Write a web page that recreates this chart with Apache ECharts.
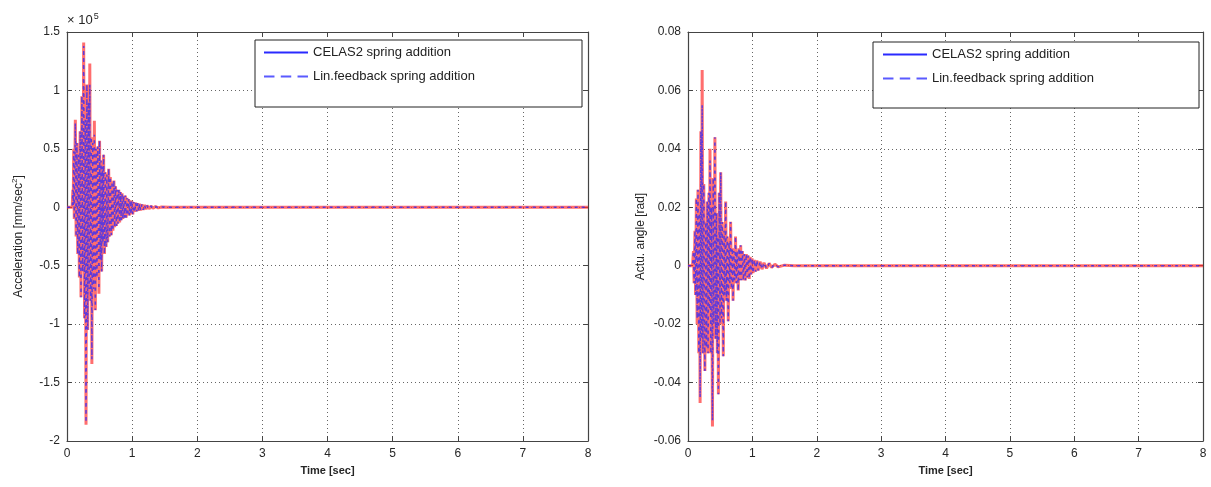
<!DOCTYPE html>
<html>
<head>
<meta charset="utf-8">
<script src="https://cdn.jsdelivr.net/npm/echarts@6/dist/echarts.min.js"></script>
<style>
  html, body { margin: 0; padding: 0; background: #fff; }
  #chart { width: 1211px; height: 487px; }
</style>
</head>
<body>
<div id="chart"></div>
<script>
// Left panel: acceleration response (values in units of 1e5 mm/sec^2), peak-to-peak samples
const accTime = [
  0, 0.08, 0.09, 0.096, 0.103, 0.112, 0.128, 0.14, 0.152, 0.165,
  0.178, 0.19, 0.202, 0.215, 0.228, 0.242, 0.256, 0.27, 0.28, 0.292,
  0.305, 0.318, 0.33, 0.34, 0.35, 0.362, 0.372, 0.382, 0.395, 0.408,
  0.42, 0.435, 0.447, 0.46, 0.472, 0.49, 0.5, 0.512, 0.522, 0.532,
  0.545, 0.552, 0.562, 0.575, 0.588, 0.6, 0.612, 0.625, 0.64, 0.652,
  0.665, 0.68, 0.692, 0.705, 0.72, 0.732, 0.745, 0.758, 0.77, 0.782,
  0.795, 0.808, 0.82, 0.833, 0.845, 0.858, 0.87, 0.883, 0.895, 0.908,
  0.92, 0.933, 0.945, 0.958, 0.97, 0.983, 0.995, 1.01, 1.025, 1.04,
  1.055, 1.07, 1.085, 1.1, 1.115, 1.13, 1.15, 1.17, 1.19, 1.21,
  1.23, 1.26, 1.29, 1.32, 1.36, 1.4, 1.45, 1.58, 8
];
const accCelas = [
  0, 0, 0.15, 0.02, 0.50, -0.10, 0.75, -0.25, 0.55, -0.40,
  0.45, -0.60, 0.65, -0.77, 0.95, -0.55, 1.41, -0.95, 0.75, -1.86,
  1.05, -1.05, 0.90, -0.70, 1.23, -0.80, 0.60, -1.34, 0.55, -0.70,
  0.74, -0.88, 0.50, -0.60, 0.52, -0.74, 0.57, -0.45, 0.40, -0.55,
  0.35, -0.30, 0.45, -0.40, 0.30, -0.34, 0.28, -0.30, 0.33, -0.25,
  0.26, -0.24, 0.22, -0.20, 0.23, -0.17, 0.18, -0.16, 0.15, -0.14,
  0.15, -0.13, 0.13, -0.11, 0.12, -0.10, 0.10, -0.09, 0.10, -0.09,
  0.08, -0.07, 0.07, -0.07, 0.06, -0.06, 0.055, -0.06, 0.045, -0.04,
  0.04, -0.035, 0.035, -0.03, 0.03, -0.027, 0.025, -0.022, 0.02, -0.018,
  0.015, -0.013, 0.011, -0.009, 0.007, -0.005, 0.003, 0, 0
];
const accLinFb = [
  0, 0, 0.15, 0.02, 0.48, -0.10, 0.72, -0.25, 0.55, -0.40,
  0.45, -0.60, 0.65, -0.77, 0.95, -0.55, 1.38, -0.95, 0.75, -1.84,
  1.05, -1.05, 0.90, -0.70, 1.05, -0.80, 0.60, -1.30, 0.55, -0.70,
  0.62, -0.88, 0.50, -0.60, 0.52, -0.70, 0.57, -0.45, 0.40, -0.55,
  0.35, -0.30, 0.45, -0.40, 0.30, -0.34, 0.28, -0.30, 0.33, -0.25,
  0.26, -0.24, 0.22, -0.20, 0.23, -0.17, 0.18, -0.16, 0.15, -0.14,
  0.15, -0.13, 0.13, -0.11, 0.12, -0.10, 0.10, -0.09, 0.10, -0.09,
  0.08, -0.07, 0.07, -0.07, 0.06, -0.06, 0.055, -0.06, 0.045, -0.04,
  0.04, -0.035, 0.035, -0.03, 0.03, -0.027, 0.025, -0.022, 0.02, -0.018,
  0.015, -0.013, 0.011, -0.009, 0.007, -0.005, 0.003, 0, 0
];

// Right panel: actuator angle response [rad]
const angTime = [
  0, 0.07, 0.085, 0.095, 0.108, 0.118, 0.13, 0.142, 0.155, 0.168,
  0.178, 0.188, 0.2, 0.21, 0.22, 0.232, 0.245, 0.262, 0.275, 0.288,
  0.3, 0.312, 0.325, 0.333, 0.342, 0.355, 0.365, 0.38, 0.392, 0.402,
  0.418, 0.43, 0.442, 0.455, 0.462, 0.472, 0.485, 0.497, 0.508, 0.52,
  0.532, 0.548, 0.56, 0.572, 0.585, 0.598, 0.61, 0.625, 0.637, 0.65,
  0.662, 0.675, 0.688, 0.7, 0.712, 0.725, 0.738, 0.75, 0.762, 0.78,
  0.792, 0.805, 0.818, 0.83, 0.845, 0.86, 0.875, 0.89, 0.905, 0.92,
  0.935, 0.95, 0.965, 0.98, 0.995, 1.01, 1.03, 1.05, 1.07, 1.09,
  1.12, 1.15, 1.18, 1.22, 1.26, 1.3, 1.35, 1.4, 1.5, 1.65, 8
];
const angCelas = [
  0, 0, 0.005, -0.006, 0.012, -0.010, 0.023, -0.020, 0.026, -0.030,
  0.018, -0.047, 0.046, -0.025, 0.067, -0.030, 0.028, -0.036, 0.015, -0.028,
  0.022, -0.030, 0.025, -0.015, 0.040, -0.030, 0.020, -0.055, 0.030, -0.020,
  0.044, -0.025, 0.018, -0.030, 0.010, -0.044, 0.025, -0.020, 0.032, -0.018,
  0.015, -0.031, 0.012, -0.010, 0.022, -0.012, 0.010, -0.019, 0.008, -0.006,
  0.015, -0.008, 0.006, -0.012, 0.005, -0.005, 0.010, -0.006, 0.005, -0.0085,
  0.006, -0.005, 0.007, -0.005, 0.005, -0.005, 0.004, -0.005, 0.004, -0.004,
  0.0035, -0.0045, 0.003, -0.003, 0.0025, -0.0025, 0.002, -0.002, 0.0018, -0.0016,
  0.0014, -0.0012, 0.001, -0.0009, 0.0008, -0.0006, 0.0005, -0.0004, 0.0002, 0, 0
];
const angLinFb = [
  0, 0, 0.005, -0.006, 0.012, -0.010, 0.023, -0.018, 0.026, -0.030,
  0.018, -0.045, 0.046, -0.025, 0.055, -0.030, 0.028, -0.036, 0.015, -0.028,
  0.022, -0.030, 0.025, -0.015, 0.036, -0.030, 0.020, -0.053, 0.030, -0.020,
  0.044, -0.025, 0.018, -0.030, 0.010, -0.044, 0.025, -0.020, 0.032, -0.018,
  0.015, -0.031, 0.012, -0.010, 0.022, -0.012, 0.010, -0.019, 0.008, -0.006,
  0.015, -0.008, 0.006, -0.012, 0.005, -0.005, 0.010, -0.006, 0.005, -0.0085,
  0.006, -0.005, 0.007, -0.005, 0.005, -0.005, 0.004, -0.005, 0.004, -0.004,
  0.0035, -0.0045, 0.003, -0.003, 0.0025, -0.0025, 0.002, -0.002, 0.0018, -0.0016,
  0.0014, -0.0012, 0.001, -0.0009, 0.0008, -0.0006, 0.0005, -0.0004, 0.0002, 0, 0
];

const seriesNames = ['CELAS2 spring addition', 'Lin.feedback spring addition'];
const timeLabel = 'Time [sec]';

const FONT = '"Liberation Sans", Arial, sans-serif';
const pairs = (t, v) => t.map((x, i) => [x, v[i]]);

const gridRects = [
  { left: 67, top: 32, width: 521, height: 409 },
  { left: 688, top: 32, width: 515, height: 409 }
];

const dotted = { show: true, lineStyle: { color: '#666', width: 1, type: [1, 3] } };
const frameLine = { show: true, onZero: false, lineStyle: { color: '#444', width: 1.2 } };
const inTick = { show: true, inside: true, length: 5, lineStyle: { color: '#444' } };

function xAxes(gi) {
  return [
    {
      type: 'value', gridIndex: gi, position: 'bottom', min: 0, max: 8, interval: 1,
      axisLine: frameLine, axisTick: inTick, splitLine: dotted,
      axisLabel: { color: '#262626', fontSize: 12, fontFamily: FONT, margin: 7 },
      name: timeLabel, nameLocation: 'middle', nameGap: 24,
      nameTextStyle: { color: '#262626', fontSize: 11, fontWeight: 'bold', fontFamily: FONT }
    },
    {
      type: 'value', gridIndex: gi, position: 'top', min: 0, max: 8, interval: 1,
      axisLine: frameLine, axisTick: inTick, splitLine: { show: false },
      axisLabel: { show: false }
    }
  ];
}

function yAxes(gi, min, max, interval, name, fmt, gap) {
  return [
    {
      type: 'value', gridIndex: gi, position: 'left', min: min, max: max, interval: interval,
      axisLine: frameLine, axisTick: inTick, splitLine: dotted,
      axisLabel: { color: '#262626', fontSize: 12, fontFamily: FONT, margin: 7, formatter: fmt },
      name: name, nameLocation: 'middle', nameGap: gap, nameRotate: 90,
      nameTextStyle: {
        color: '#262626', fontSize: 12, fontFamily: FONT,
        rich: { sup: { fontSize: 8, verticalAlign: 'top', padding: [0, 0, 8, 0], color: '#262626', fontFamily: FONT } }
      }
    },
    {
      type: 'value', gridIndex: gi, position: 'right', min: min, max: max, interval: interval,
      axisLine: frameLine, axisTick: inTick, splitLine: { show: false },
      axisLabel: { show: false }
    }
  ];
}

const accFmt = v => String(Math.round(v * 10) / 10);
const angFmt = v => (Math.abs(v) < 1e-9 ? '0' : v.toFixed(2));

function makeSeries(name, xi, yi, data, isDashed) {
  return {
    type: 'line', name: name, xAxisIndex: xi, yAxisIndex: yi,
    data: data, showSymbol: false, symbol: 'none', animation: false,
    z: isDashed ? 3 : 2,
    lineStyle: isDashed
      ? { color: '#2a2aff', width: 1.5, type: [3, 4], opacity: 0.75 }
      : { color: '#ff3030', width: 3, opacity: 0.7 },
    itemStyle: { color: isDashed ? '#2a2aff' : '#ff3030' }
  };
}

function legendFor(left, top) {
  return {
    orient: 'vertical', left: left, top: top, z: 20,
    itemWidth: 44, itemHeight: 14, itemGap: 11,
    selectedMode: false,
    textStyle: { color: '#222', fontSize: 13, fontFamily: FONT },
    data: [
      { name: seriesNames[0], icon: 'path://M0,6 L44,6 L44,8 L0,8 Z', itemStyle: { color: '#2a2aff' } },
      { name: seriesNames[1], icon: 'path://M0,6 L10,6 L10,8 L0,8 Z M16,6 L26,6 L26,8 L16,8 Z M32,6 L42,6 L42,8 L32,8 Z', itemStyle: { color: '#5a5aff' } }
    ]
  };
}

const chart = echarts.init(document.getElementById('chart'), null, { renderer: 'canvas' });
chart.setOption({
  backgroundColor: '#ffffff',
  animation: false,
  grid: gridRects,
  xAxis: [...xAxes(0), ...xAxes(1)],
  yAxis: [
    ...yAxes(0, -2, 1.5, 0.5, 'Acceleration [mm/sec{sup|2}]', accFmt, 40),
    ...yAxes(1, -0.06, 0.08, 0.02, 'Actu. angle [rad]', angFmt, 41)
  ],
  legend: [legendFor(259, 41), legendFor(878, 43)],
  graphic: [
    { type: 'rect', z: 15, shape: { x: 255, y: 40, width: 327, height: 67 },
      style: { fill: '#fff', stroke: '#222', lineWidth: 1 } },
    { type: 'rect', z: 15, shape: { x: 873, y: 42, width: 326, height: 66 },
      style: { fill: '#fff', stroke: '#222', lineWidth: 1 } },
    { type: 'text', z: 15, left: 67, top: 12,
      style: {
        text: '\u00d7 10{s|5}', fill: '#262626', font: '13px ' + FONT,
        rich: { s: { fontSize: 9, verticalAlign: 'top', padding: [0, 0, 8, 1], fill: '#262626', fontFamily: FONT } }
      } }
  ],
  series: [
    makeSeries(seriesNames[0], 0, 0, pairs(accTime, accCelas), false),
    makeSeries(seriesNames[1], 0, 0, pairs(accTime, accLinFb), true),
    makeSeries(seriesNames[0], 2, 2, pairs(angTime, angCelas), false),
    makeSeries(seriesNames[1], 2, 2, pairs(angTime, angLinFb), true)
  ]
});
</script>
</body>
</html>
